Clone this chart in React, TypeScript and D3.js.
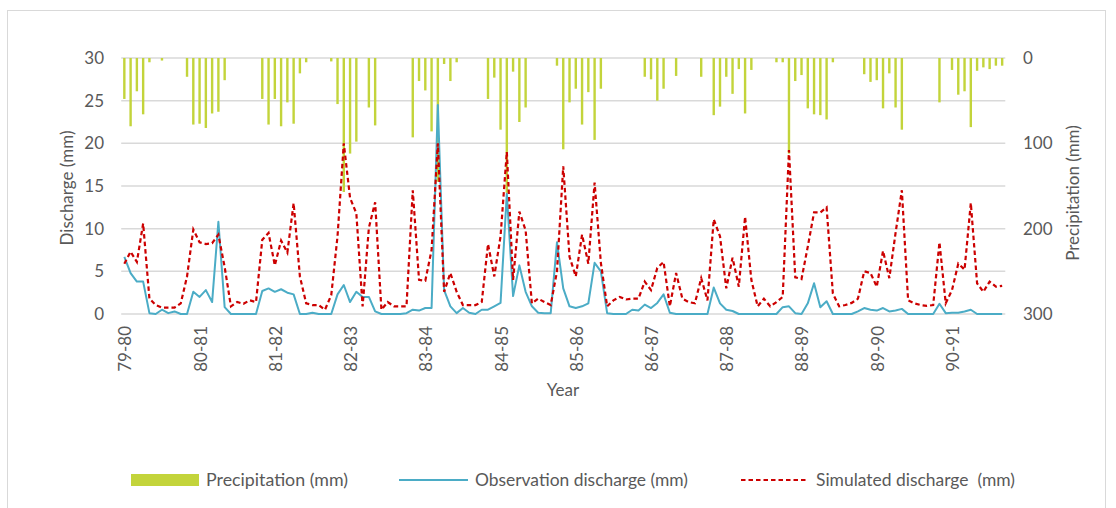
import React from "react";
import * as d3 from "d3";

const yearLabels = ["79-80","80-81","81-82","82-83","83-84","84-85","85-86","86-87","87-88","88-89","89-90","90-91"];

// monthly precipitation (mm), right axis (inverted)
const precipitation = [
  48,80,39,66,5,0,3,0,0,0,22,78,
  77,82,65,63,26,0,0,0,0,0,48,78,
  48,80,52,77,18,5,0,0,0,4,54,157,
  112,98,0,58,79,0,0,0,0,0,93,27,
  38,86,145,7,27,5,0,0,0,0,48,23,
  84,158,16,75,58,0,0,0,0,9,107,52,
  36,78,40,96,36,0,0,0,0,0,0,22,
  25,50,36,0,21,0,0,0,22,0,67,57,
  22,42,13,65,14,0,0,0,5,5,112,27,
  20,59,66,67,72,5,0,0,0,0,19,28,
  26,59,18,58,84,0,0,0,0,0,52,0,
  14,43,39,81,15,11,13,9,9
];

// observed discharge (mm)
const observed = [
  6.7,4.8,3.8,3.8,0.1,0,0.5,0.1,0.3,0,0,2.6,
  2.0,2.8,1.4,10.8,0.8,0,0,0,0,0,2.7,3.0,
  2.6,2.9,2.5,2.3,0,0,0.15,0,0,0,2.3,3.4,
  1.4,2.6,2.0,2.0,0.3,0,0,0,0,0.1,0.5,0.4,
  0.7,0.7,24.5,2.8,0.9,0.1,0.7,0.15,0,0.5,0.5,0.9,
  1.3,14.1,2.1,5.7,2.6,0.9,0.15,0.1,0.1,8.4,3.0,0.9,
  0.7,0.9,1.25,6.0,5.0,0.1,0,0,0,0.5,0.4,1.1,
  0.7,1.3,2.3,0.15,0,0,0,0,0,0,3.1,1.25,
  0.5,0.35,0,0,0,0,0,0,0,0.8,0.9,0.1,
  0,1.25,3.6,0.8,1.5,0,0,0,0,0.3,0.7,0.5,
  0.4,0.7,0.3,0.4,0.6,0,0,0,0,0,1.2,0.1,
  0.15,0.15,0.3,0.5,0,0,0,0,0
];

// simulated discharge (mm)
const simulated = [
  5.9,7.3,6.1,10.6,1.8,1.05,0.75,0.75,0.75,1.25,4.4,9.9,
  8.4,8.2,8.3,9.3,5.5,0.9,1.4,1.2,1.6,1.4,8.7,9.5,
  5.7,8.6,7.2,13.0,4.4,1.25,1.05,1.05,0.5,2.2,9.1,20.0,
  13.6,11.8,0.9,10.1,13.1,0.5,1.4,0.9,0.9,0.9,14.5,4.0,
  3.9,7.5,20.0,2.6,4.8,2.6,1.05,1.05,1.05,1.4,8.2,4.4,
  9.1,19.0,4.0,12.0,9.8,1.25,1.8,1.4,1.05,5.0,17.3,6.7,
  4.4,9.3,5.9,15.4,6.0,0.9,1.6,2.0,1.7,1.8,1.8,3.8,
  2.8,5.4,6.1,0.9,4.8,1.8,1.4,1.25,4.2,1.6,11.1,9.1,
  3.0,6.6,3.2,11.4,4.0,0.9,1.8,0.9,1.4,2.0,19.2,4.3,
  4.1,7.9,11.9,11.9,12.5,2.4,0.9,1.05,1.3,1.8,5.0,4.8,
  3.2,7.4,4.2,9.5,14.5,1.6,1.25,1.05,0.95,1.05,8.4,1.25,
  2.8,5.9,5.2,13.0,3.6,2.6,3.8,3.2,3.3
];

const leftTicks = [0, 5, 10, 15, 20, 25, 30];
const rightTicks = [0, 100, 200, 300];

const W = 1116, H = 508;
const FONT = "Lato, 'Open Sans', sans-serif";

export default function App() {
  const left = 121.2, right = 1005.3, top = 58, bottom = 314;
  const idx = d3.range(observed.length);
  const x = d3.scaleBand<number>().domain(idx).range([left, right]).padding(0);
  const cx = (i: number) => (x(i) as number) + x.bandwidth() / 2;
  const yL = d3.scaleLinear().domain([0, 30]).range([bottom, top]);
  const yR = d3.scaleLinear().domain([0, 300]).range([top, bottom]);

  const line = d3.line<number>().x((_, i) => cx(i)).y((d) => yL(d));

  return (
    <svg width={W} height={H} style={{ display: "block", position: "absolute", left: 0, top: 0 }}>
      <rect x={0} y={0} width={W} height={H} fill="#fff" />
      <rect x={7.5} y={10.5} width={1098} height={540} fill="none" stroke="#d9d9d9" strokeWidth={1} />
      {leftTicks.map((t) => (
        <line key={"g" + t} x1={left} x2={right} y1={yL(t)} y2={yL(t)} stroke="#d9d9d9" strokeWidth={1.5} />
      ))}
      {precipitation.map((v, i) =>
        v > 0 ? (
          <rect key={"p" + i} x={cx(i) - 1.2} y={yR(0)} width={2.4} height={yR(v) - yR(0)} fill="#c3d43b" />
        ) : null
      )}
      <path d={line(observed) || ""} fill="none" stroke="#4bacc6" strokeWidth={2} strokeLinejoin="round" />
      <path d={line(simulated) || ""} fill="none" stroke="#cc0000" strokeWidth={2.2} strokeDasharray="4.5,3" />

      {leftTicks.map((t) => (
        <text key={"lt" + t} x={104} y={yL(t)} dy="0.35em" textAnchor="end" fontFamily={FONT} fontSize={17} fill="#595959">{t}</text>
      ))}
      {rightTicks.map((t) => (
        <text key={"rt" + t} x={1023} y={yR(t)} dy="0.35em" textAnchor="start" fontFamily={FONT} fontSize={17} fill="#595959">{t}</text>
      ))}
      {yearLabels.map((lab, k) => {
        const xc = cx(k * 12) + 1;
        return (
          <text key={lab} transform={`translate(${xc},326) rotate(-90)`} textAnchor="end" dy="0.35em" fontFamily={FONT} fontSize={17} fill="#595959">{lab}</text>
        );
      })}
      <text x={563} y={396} textAnchor="middle" fontFamily={FONT} fontSize={17} fill="#595959">Year</text>
      <text transform="translate(67,188) rotate(-90)" textAnchor="middle" dy="0.35em" fontFamily={FONT} fontSize={17} fill="#595959">Discharge (mm)</text>
      <text transform="translate(1073,193) rotate(-90)" textAnchor="middle" dy="0.35em" fontFamily={FONT} fontSize={17} fill="#595959">Precipitation (mm)</text>

      <rect x={131} y={474} width={68} height={12} fill="#c3d43b" />
      <text x={206} y={480} dy="0.35em" fontFamily={FONT} fontSize={17} fill="#595959" textLength={142} lengthAdjust="spacingAndGlyphs">Precipitation (mm)</text>
      <line x1={399} x2={468} y1={480} y2={480} stroke="#4bacc6" strokeWidth={2} />
      <text x={475} y={480} dy="0.35em" fontFamily={FONT} fontSize={17} fill="#595959" textLength={213} lengthAdjust="spacingAndGlyphs">Observation discharge (mm)</text>
      <line x1={741} x2={808} y1={480} y2={480} stroke="#cc0000" strokeWidth={2} strokeDasharray="4.5,3" />
      <text x={816} y={480} dy="0.35em" fontFamily={FONT} fontSize={17} fill="#595959" textLength={199} lengthAdjust="spacingAndGlyphs" style={{ whiteSpace: "pre" }}>Simulated discharge  (mm)</text>
    </svg>
  );
}
